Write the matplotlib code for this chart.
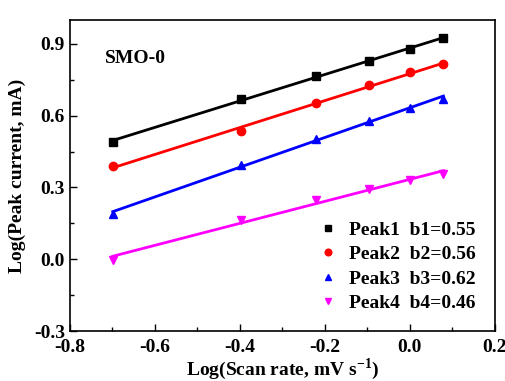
import numpy as np
import matplotlib
matplotlib.use('Agg')
import matplotlib.pyplot as plt
from matplotlib.ticker import MultipleLocator

plt.rcParams['font.family'] = 'Liberation Serif'
plt.rcParams['font.weight'] = 'bold'
plt.rcParams['mathtext.fontset'] = 'custom'
plt.rcParams['mathtext.rm'] = 'Liberation Serif:bold'
plt.rcParams['mathtext.bf'] = 'Liberation Serif:bold'

# log10 of scan rate (0.2 ... 1.2 mV/s)
log_rate = [-0.699, -0.398, -0.222, -0.097, 0.0, 0.079]
peak1 = [0.490, 0.670, 0.764, 0.828, 0.878, 0.924]
peak2 = [0.389, 0.535, 0.652, 0.727, 0.781, 0.814]
peak3 = [0.190, 0.393, 0.503, 0.577, 0.633, 0.670]
peak4 = [-0.004, 0.166, 0.249, 0.294, 0.329, 0.354]
labels = ['Peak1  b1=0.55', 'Peak2  b2=0.56', 'Peak3  b3=0.62', 'Peak4  b4=0.46']

colors = ['black', 'red', 'blue', 'magenta']
markers = ['s', 'o', '^', 'v']

fig = plt.figure(figsize=(5.06, 3.81), dpi=100)
ax = fig.add_axes([0.138, 0.131, 0.840, 0.817])

x = np.array(log_rate)
for y, c, m, lab in zip([peak1, peak2, peak3, peak4], colors, markers, labels):
    ax.plot(x, y, linestyle='none', marker=m, color=c, markersize=6, label=lab)
    k, b = np.polyfit(x, y, 1)
    xx = np.array([x.min(), x.max()])
    ax.plot(xx, k * xx + b, color=c, lw=2)

ax.set_xlim(-0.8, 0.2)
ax.set_ylim(-0.3, 1.0)
ax.xaxis.set_major_locator(MultipleLocator(0.2))
ax.xaxis.set_minor_locator(MultipleLocator(0.1))
ax.yaxis.set_major_locator(MultipleLocator(0.3))
ax.yaxis.set_minor_locator(MultipleLocator(0.15))
ax.tick_params(which='both', direction='in', labelsize=14, top=False, right=False)
ax.tick_params(which='major', length=5, width=1)
ax.tick_params(which='minor', length=3, width=1)
ax.tick_params(axis='x', pad=6)
ax.set_xticklabels([f'{v:.1f}' for v in ax.get_xticks()])
ax.set_yticklabels([f'{v:.1f}' for v in ax.get_yticks()])
for sp in ax.spines.values():
    sp.set_linewidth(1.2)

ax.set_xlabel(r'Log(Scan rate, mV s$^{\mathbf{-1}}$)', fontsize=14, fontweight='bold', labelpad=0)
ax.set_ylabel('Log(Peak current, mA)', fontsize=14, fontweight='bold', labelpad=6)
ax.text(0.082, 0.875, 'SMO-0', transform=ax.transAxes, fontsize=14, fontweight='bold', va='center')

# legend shows markers only
handles, labs = ax.get_legend_handles_labels()
ax.legend(handles, labs, loc='lower right', frameon=False, fontsize=14,
          handletextpad=0.6, labelspacing=0.35, bbox_to_anchor=(0.997, 0.005),
          handlelength=1.0, markerscale=0.8)

fig.savefig('out.png', dpi=100)
